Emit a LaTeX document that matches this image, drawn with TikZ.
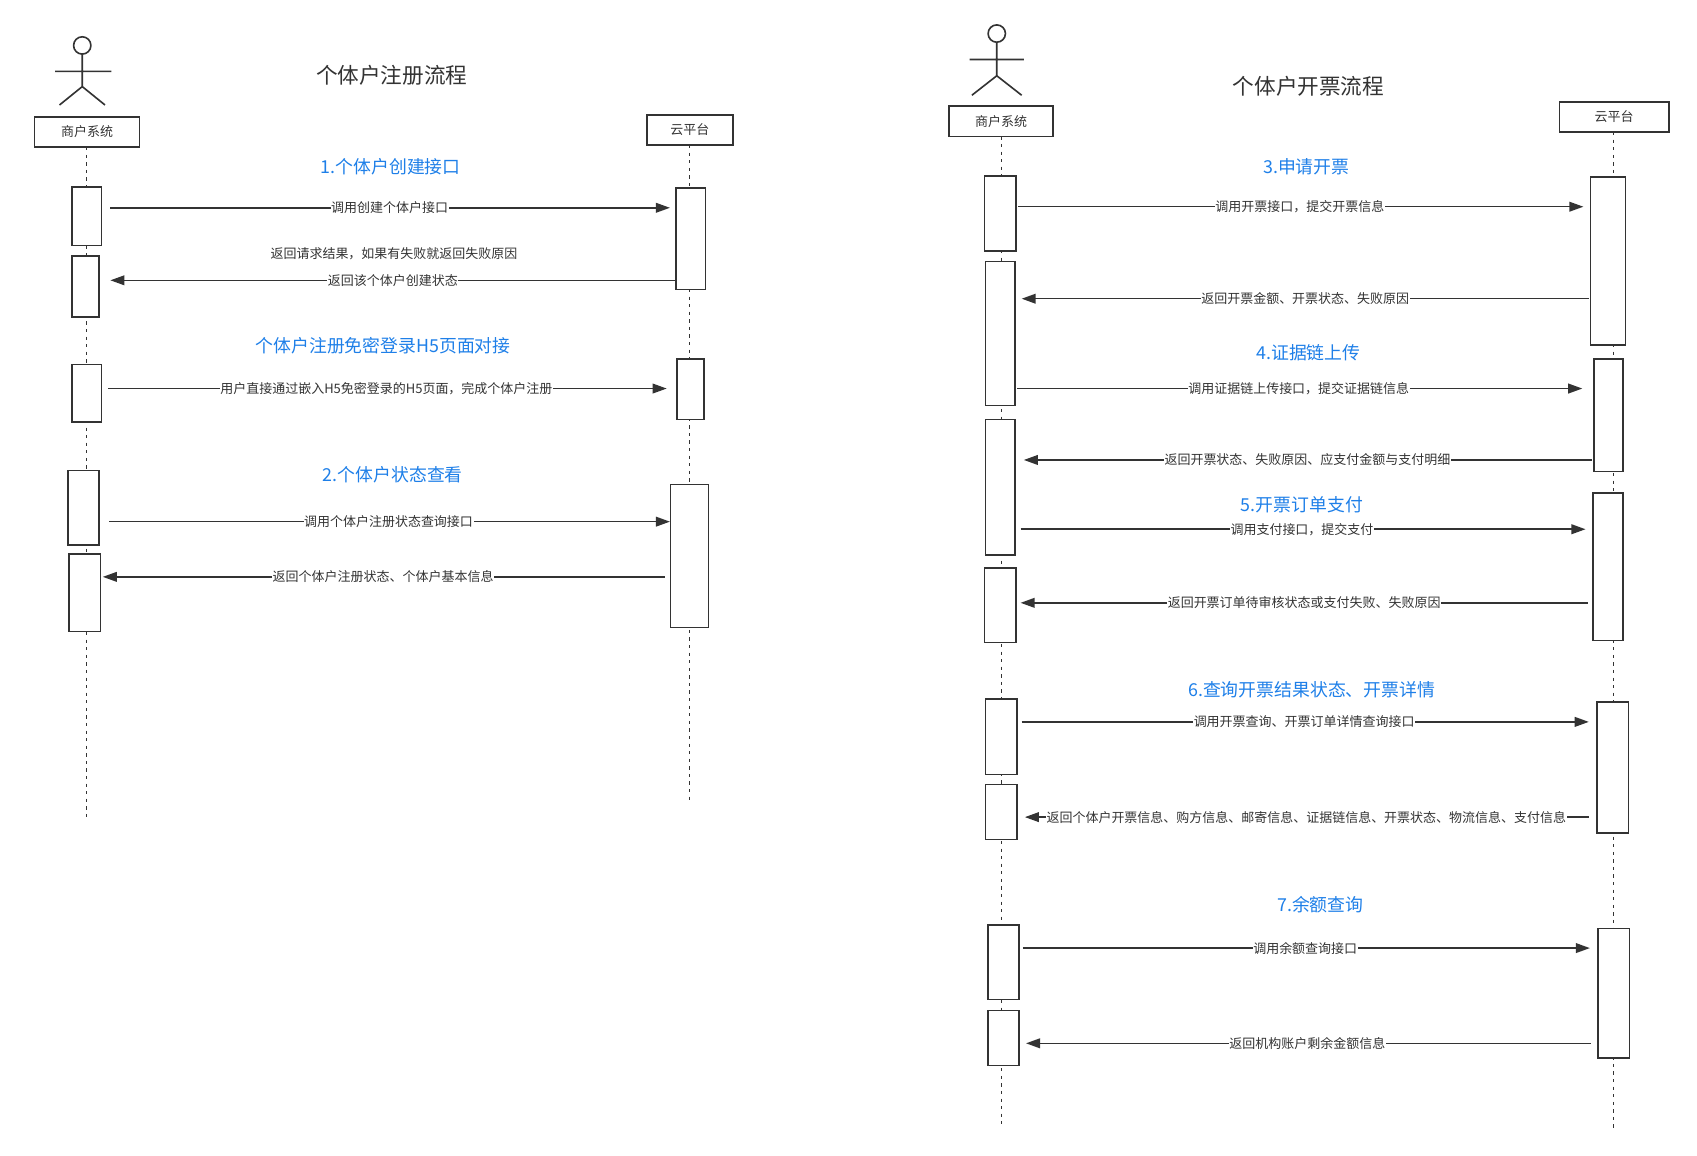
\documentclass[tikz,border=0pt]{standalone}
\usepackage{fontspec}
\setmainfont{Noto Sans CJK SC}
\usetikzlibrary{arrows.meta}
\definecolor{ln}{HTML}{333333}
\definecolor{bl}{HTML}{1E7FE8}
\tikzset{
  act/.style={draw=ln,line width=1.4pt,fill=white},
  life/.style={draw=ln,line width=1pt,dash pattern=on 3pt off 4pt},
  msg/.style={draw=ln,line width=1.4pt,-{Triangle[length=13pt,width=9pt]}},
  lbl/.style={fill=white,inner sep=0.5pt,font=\fontsize{12}{14}\selectfont,text=ln},
  plain/.style={inner sep=0pt,font=\fontsize{12}{14}\selectfont,text=ln},
  blue/.style={text=bl,font=\fontsize{16.5}{19}\selectfont},
  ttl/.style={text=ln,font=\fontsize{20}{23}\selectfont},
  hbox/.style={draw=ln,line width=1.6pt,fill=white,inner sep=0pt,font=\fontsize{12}{14}\selectfont,text=ln},
  fig/.style={draw=ln,line width=1.5pt}
}
\newcommand{\mybox}[5]{\node[act,minimum width=#4-#2,minimum height=#5-#3,inner sep=0pt,anchor=north west] (#1) at (#2,#3) {};}
\newcommand{\mymsg}[6]{% name, y, x1, x2, label x, text
  \coordinate (#1s) at (#3,#2); \coordinate (#1e) at (#4,#2);
  \draw[msg] (#1s) -- (#1e);
  \node[lbl] (#1l) at (#5,#2) {#6};}
\begin{document}
\begin{tikzpicture}[x=1pt,y=-1pt]
\useasboundingbox (0,0) rectangle (1568,1068);
% ---------- left ----------
\node[ttl] (t1) at (362,70) {个体户注册流程};
\draw[fig] (76,42) circle (8);
\draw[fig] (76,50) -- (76,80) (51,66) -- (103,66) (55,97) -- (76,80) -- (97,97);
\draw[life] (80,136) -- (80,755);
\draw[life] (637,134) -- (637,742);
\node[hbox,minimum width=97,minimum height=28] (m1) at (80.5,122) {商户系统};
\node[hbox,minimum width=79,minimum height=28] (c1) at (637.5,120) {云平台};
\mybox{la1}{66}{172}{93}{226}
\mybox{la2}{66}{236}{91}{292}
\mybox{la3}{66}{336}{93}{389}
\mybox{la4}{62}{434}{91}{503}
\mybox{la5}{63}{511}{92}{583}
\mybox{ra1}{624}{173}{651}{267}
\mybox{ra2}{625}{331}{650}{387}
\mybox{ra3}{619}{447}{654}{579}
\node[blue] (b1) at (361,154) {1.个体户创建接口};
\mymsg{a1}{192}{102}{619}{360}{调用创建个体户接口}
\node[plain] (p1) at (364,234) {返回请求结果，如果有失败就返回失败原因};
\mymsg{a2}{259}{624}{102}{363}{返回该个体户创建状态}
\node[blue] (b2) at (354,319) {个体户注册免密登录H5页面对接};
\mymsg{a3}{359}{100}{616}{357}{用户直接通过嵌入H5免密登录的H5页面，完成个体户注册}
\node[blue] (b3) at (363,439) {2.个体户状态查看};
\mymsg{a4}{482}{101}{619}{359}{调用个体户注册状态查询接口}
\mymsg{a5}{533}{614}{95}{354}{返回个体户注册状态、个体户基本信息}
% ---------- right ----------
\node[ttl] (t2) at (1209,80) {个体户开票流程};
\draw[fig] (921,31) circle (8);
\draw[fig] (921,39) -- (921,70) (896,55) -- (946,55) (898,88) -- (921,70) -- (944,88);
\draw[life] (925,126) -- (925,1040);
\draw[life] (1491,122) -- (1491,1043);
\node[hbox,minimum width=96,minimum height=28] (m2) at (925,112) {商户系统};
\node[hbox,minimum width=101,minimum height=28] (c2) at (1491.5,108) {云平台};
\mybox{lb1}{909}{162}{938}{231}
\mybox{lb2}{910}{241}{937}{374}
\mybox{lb3}{910}{387}{937}{512}
\mybox{lb4}{909}{524}{938}{593}
\mybox{lb5}{910}{645}{939}{715}
\mybox{lb6}{910}{724}{939}{775}
\mybox{lb7}{912}{854}{941}{923}
\mybox{lb8}{912}{933}{941}{984}
\mybox{rb1}{1469}{163}{1501}{318}
\mybox{rb2}{1472}{331}{1499}{435}
\mybox{rb3}{1471}{455}{1499}{591}
\mybox{rb4}{1475}{648}{1504}{769}
\mybox{rb5}{1476}{857}{1505}{977}
\node[blue] (b4) at (1207,154) {3.申请开票};
\mymsg{c1}{191}{941}{1463}{1201}{调用开票接口，提交开票信息}
\mymsg{c2}{276}{1468}{944}{1206}{返回开票金额、开票状态、失败原因}
\node[blue] (b5) at (1209,326) {4.证据链上传};
\mymsg{c3}{359}{940}{1462}{1200}{调用证据链上传接口，提交证据链信息}
\mymsg{c4}{425}{1471}{946}{1208}{返回开票状态、失败原因、应支付金额与支付明细}
\node[blue] (b6) at (1203,466) {5.开票订单支付};
\mymsg{c5}{489}{943}{1465}{1203}{调用支付接口，提交支付}
\mymsg{c6}{557}{1467}{943}{1205}{返回开票订单待审核状态或支付失败、失败原因}
\node[blue] (b7) at (1212,637) {6.查询开票结果状态、开票详情};
\mymsg{c7}{667}{944}{1468}{1205}{调用开票查询、开票订单详情查询接口}
\mymsg{c8}{755}{1468}{947}{1207}{返回个体户开票信息、购方信息、邮寄信息、证据链信息、开票状态、物流信息、支付信息}
\node[blue] (b8) at (1220,836) {7.余额查询};
\mymsg{c9}{876}{945}{1469}{1206}{调用余额查询接口}
\mymsg{c10}{964}{1470}{948}{1208}{返回机构账户剩余金额信息}
\end{tikzpicture}
\end{document}
